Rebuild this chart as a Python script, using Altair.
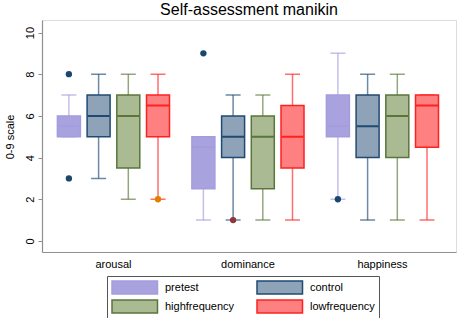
import altair as alt
import pandas as pd

groups = ["arousal", "dominance", "happiness"]
series = ["pretest", "control", "highfrequency", "lowfrequency"]

# box statistics per group, in series order
arousal_low = [5, 3, 2, 2]
arousal_q1 = [5, 5, 3.5, 5]
arousal_med = [5.5, 6, 6, 6.5]
arousal_q3 = [6, 7, 7, 7]
arousal_high = [7, 8, 8, 8]

dominance_low = [1, 1, 1, 1]
dominance_q1 = [2.5, 4, 2.5, 3.5]
dominance_med = [4.5, 5, 5, 5]
dominance_q3 = [5, 6, 6, 6.5]
dominance_high = [5, 7, 7, 8]

happiness_low = [2, 1, 1, 1]
happiness_q1 = [5, 4, 4, 4.5]
happiness_med = [5.5, 5.5, 6, 6.5]
happiness_q3 = [7, 7, 7, 7]
happiness_high = [9, 8, 8, 7]

outlier_group = ["arousal", "arousal", "arousal", "dominance", "dominance", "happiness"]
outlier_series = ["pretest", "pretest", "lowfrequency", "pretest", "control", "pretest"]
outlier_value = [8, 3, 2, 9, 1, 2]

fill_colors = ["#a8a3de", "#8ea3b7", "#aabb94", "#ff8080"]
stroke_colors = ["#a39dde", "#1f4a73", "#5a763a", "#ff2020"]
outlier_colors = ["#1a476f", "#90353b", "#55752f", "#e37e00"]

stat_table = {
    "arousal": (arousal_low, arousal_q1, arousal_med, arousal_q3, arousal_high),
    "dominance": (dominance_low, dominance_q1, dominance_med, dominance_q3, dominance_high),
    "happiness": (happiness_low, happiness_q1, happiness_med, happiness_q3, happiness_high),
}
rows = []
for g in groups:
    lo, q1, md, q3, hi = stat_table[g]
    for i, s in enumerate(series):
        rows.append(dict(group=g, series=s, lo=lo[i], q1=q1[i], med=md[i], q3=q3[i], hi=hi[i]))
box_df = pd.DataFrame(rows)
out_df = pd.DataFrame(dict(group=outlier_group, series=outlier_series, value=outlier_value))

FONT = "Liberation Sans"

x_enc = alt.X("group:N", sort=groups,
              scale=alt.Scale(paddingInner=0, paddingOuter=0.039, align=0.4),
              axis=alt.Axis(title=None, labelAngle=0, ticks=False, labelPadding=6,
                            labelFontSize=11, labelFont=FONT, labelColor="black",
                            domainColor="#8f8f8f", domainWidth=1.2))
xo_enc = alt.XOffset("series:N", sort=series,
                     scale=alt.Scale(paddingInner=0, paddingOuter=0.264))

yscale = alt.Scale(domain=[-0.53, 10.6], nice=False, zero=False)
yaxis = alt.Axis(values=[0, 2, 4, 6, 8, 10], grid=False, labelAngle=270,
                 labelAlign="center", labelBaseline="alphabetic", labelPadding=5,
                 tickSize=4, tickColor="#8f8f8f", domainColor="#8f8f8f", domainWidth=1.2,
                 labelFontSize=11, labelFont=FONT, labelColor="black",
                 titleFontSize=11, titleFont=FONT, titleFontWeight="normal",
                 titleColor="black", titleAngle=270, titleX=-29, titleY=116.5,
                 titleAlign="center", titleBaseline="alphabetic")


def yenc(field):
    return alt.Y(field, scale=yscale, axis=yaxis, title="0-9 scale")


fill_enc = alt.Fill("series:N", sort=series,
                    scale=alt.Scale(domain=series, range=fill_colors),
                    legend=alt.Legend(title=None))
stroke_enc = alt.Stroke("series:N", sort=series,
                        scale=alt.Scale(domain=series, range=stroke_colors),
                        legend=alt.Legend(title=None))

base = alt.Chart(box_df).encode(x=x_enc, xOffset=xo_enc)

whiskers = base.mark_rule(strokeWidth=1.5, strokeOpacity=0.65).encode(
    y=yenc("lo:Q"), y2="hi:Q", stroke=stroke_enc)
boxes = base.mark_bar(width=23, strokeWidth=1.5).encode(
    y=yenc("q1:Q"), y2="q3:Q", fill=fill_enc, stroke=stroke_enc)
medians = base.mark_bar(width=22, strokeWidth=2, fill="transparent").encode(
    y=yenc("med:Q"), y2="med:Q", stroke=stroke_enc)
caps_hi = base.mark_bar(width=15, strokeWidth=1.5, strokeOpacity=0.65, fill="transparent").encode(
    y=yenc("hi:Q"), y2="hi:Q", stroke=stroke_enc)
caps_lo = base.mark_bar(width=15, strokeWidth=1.5, strokeOpacity=0.65, fill="transparent").encode(
    y=yenc("lo:Q"), y2="lo:Q", stroke=stroke_enc)
dots = alt.Chart(out_df).mark_circle(size=40, opacity=1).encode(
    x=x_enc, xOffset=xo_enc, y=yenc("value:Q"),
    color=alt.Color("series:N", scale=alt.Scale(domain=series, range=outlier_colors), legend=None))

chart = alt.layer(whiskers, caps_lo, caps_hi, boxes, medians, dots).properties(
    width=414, height=232,
    title=alt.Title("Self-assessment manikin", fontSize=16, font=FONT,
                    fontWeight="normal", color="black", anchor="middle", offset=2),
    autosize=alt.AutoSizeParams(type="none"),
    padding={"left": 42, "top": 20, "right": 3, "bottom": 66},
).configure_view(stroke=None).configure(background="white").configure_legend(
    orient="none", legendX=65, legendY=256, columns=2, direction="horizontal",
    strokeColor="#555555", fillColor="white", padding=4,
    symbolType="M-1,-1H6V1H-1Z", symbolSize=169, symbolStrokeWidth=1.5,
    labelOffset=39, columnPadding=19, rowPadding=0,
    labelFontSize=11, labelFont=FONT, labelColor="black", labelLimit=200,
)

chart.save("out.html", embed_options={"renderer": "svg", "actions": False})
